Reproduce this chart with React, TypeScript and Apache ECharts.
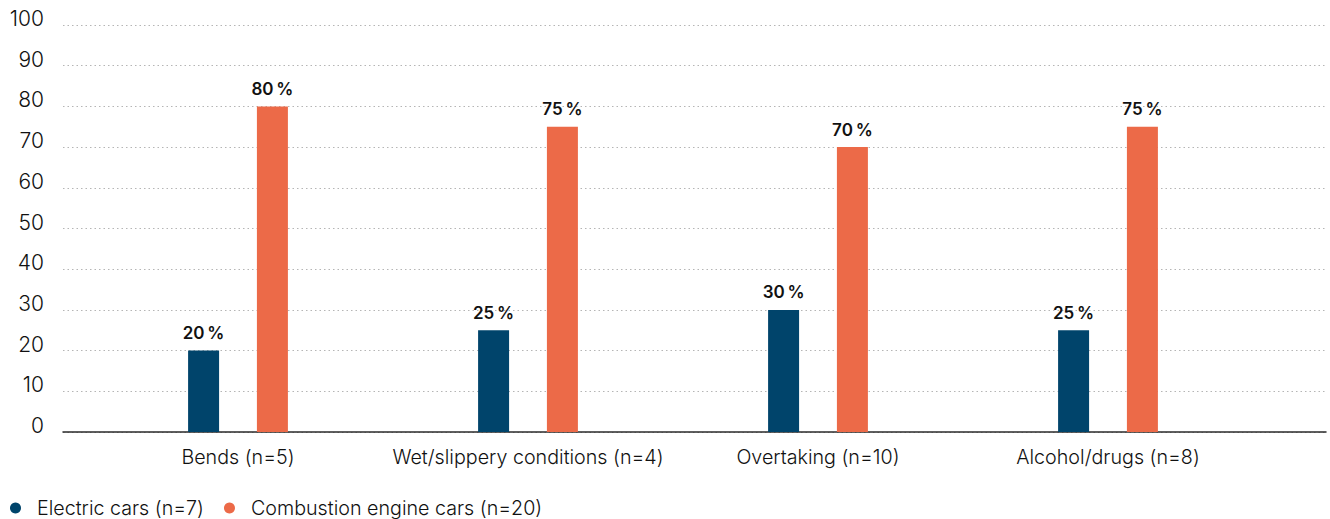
import React, { useEffect, useRef } from "react";
import * as echarts from "echarts";

const categories = ["Bends (n=5)", "Wet/slippery conditions (n=4)", "Overtaking (n=10)", "Alcohol/drugs (n=8)"];
const electric = [20, 25, 30, 25];
const combustion = [80, 75, 70, 75];
const seriesNames = ["Electric cars (n=7)", "Combustion engine cars (n=20)"];
const yTicks = [0, 10, 20, 30, 40, 50, 60, 70, 80, 90, 100];

const FONT = "Inter, 'Noto Sans', sans-serif";

export default function App() {
  const ref = useRef<HTMLDivElement>(null);
  useEffect(() => {
    document.body.style.margin = "0";
    const chart = echarts.init(ref.current!, null, { renderer: "svg" });
    const label = {
      show: true,
      position: "top",
      distance: 9,
      formatter: (p: any) => `${p.value}\u2009%`,
      fontFamily: FONT,
      fontWeight: 600,
      fontSize: 17,
      color: "#111",
    };
    chart.setOption({
      animation: false,
      textStyle: { fontFamily: FONT },
      grid: [
        { left: 63, right: 4, top: 25, bottom: 87, containLabel: false },
        { left: 93, width: 1160, top: 25, bottom: 87, containLabel: false },
      ],
      legend: {
        left: 10,
        top: 498,
        padding: 0,
        icon: "circle",
        itemWidth: 11,
        itemHeight: 11,
        itemGap: 20,
        textStyle: { fontFamily: FONT, fontSize: 19.7, fontWeight: 300, color: "#111", padding: [0, 0, 0, 11] },
        data: seriesNames,
      },
      xAxis: [
        {
          gridIndex: 0,
          type: "value",
          min: 0,
          max: 1,
          axisLine: { show: true, lineStyle: { color: "#2a2a2a", width: 1.5 } },
          axisTick: { show: false },
          axisLabel: { show: false },
          splitLine: { show: false },
        },
        {
          gridIndex: 1,
          type: "category",
          data: categories,
          axisLine: { show: false },
          axisTick: { show: false },
          axisLabel: { fontFamily: FONT, fontSize: 19.7, fontWeight: 300, color: "#111", margin: 15, interval: 0 },
        },
      ],
      yAxis: [
        {
          gridIndex: 0,
          type: "value",
          min: 0,
          max: 100,
          interval: 10,
          axisLine: { show: false },
          axisTick: { show: false },
          axisLabel: {
            fontFamily: FONT,
            fontSize: 21,
            fontWeight: 300,
            color: "#111",
            margin: 19,
            verticalAlign: "bottom",
            lineHeight: 13,
            formatter: (v: number) => (yTicks.includes(v) ? String(v) : ""),
          },
          splitLine: { show: true, lineStyle: { color: "#b5b5b5", type: [1.5, 3], width: 1 } },
        },
        {
          gridIndex: 1,
          type: "value",
          min: 0,
          max: 100,
          interval: 10,
          show: false,
          splitLine: { show: false },
        },
      ],
      series: [
        {
          name: seriesNames[0],
          type: "bar",
          xAxisIndex: 1,
          yAxisIndex: 1,
          data: electric,
          barWidth: 31,
          barGap: "122%",
          itemStyle: { color: "#00446b" },
          label,
        },
        {
          name: seriesNames[1],
          type: "bar",
          xAxisIndex: 1,
          yAxisIndex: 1,
          data: combustion,
          barWidth: 31,
          barGap: "122%",
          itemStyle: { color: "#ec6a48" },
          label,
        },
      ],
    });
    return () => chart.dispose();
  }, []);
  return <div ref={ref} style={{ width: 1330, height: 519 }} />;
}
